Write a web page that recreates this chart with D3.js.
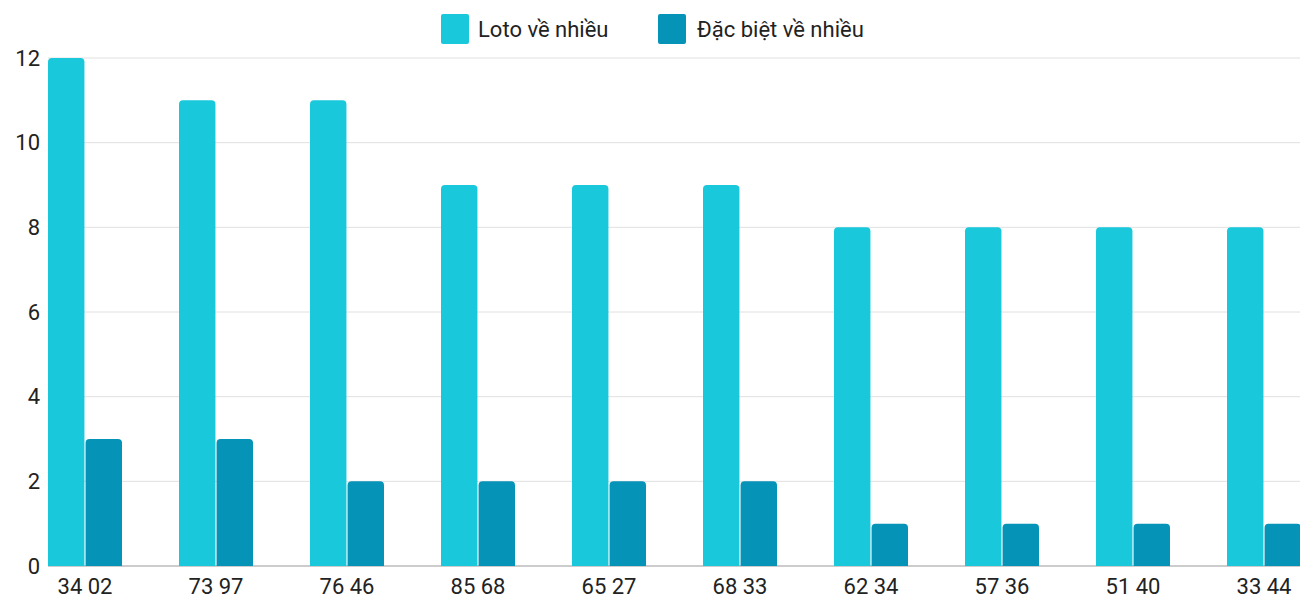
<!DOCTYPE html>
<html><head><meta charset="utf-8">
<script src="https://cdn.jsdelivr.net/npm/d3@7"></script>
<style>body{margin:0;background:#fff}text{font-family:Roboto,sans-serif}</style>
</head><body><svg id="c" width="1300" height="600"></svg>
<script>
const categories=["34 02","73 97","76 46","85 68","65 27","68 33","62 34","57 36","51 40","33 44"];
const lotoValues=[12,11,11,9,9,9,8,8,8,8];
const specialValues=[3,3,2,2,2,2,1,1,1,1];
const seriesNames=["Loto về nhiều","Đặc biệt về nhiều"];
const colors=["#1AC8DB","#0693B8"];
const yTicks=[0,2,4,6,8,10,12];

const svg=d3.select("#c");
const left=48,step=131,groupW=74;
const x0=d3.scaleBand().domain(categories).range([left,left+step*categories.length]);
const x1=d3.scaleBand().domain([0,1]).range([0,groupW]).paddingInner(0.03);
const y=d3.scaleLinear().domain([0,12]).range([566,58]);

svg.append("g").selectAll("line").data(yTicks).join("line")
 .attr("x1",left).attr("x2",1300).attr("y1",d=>y(d)).attr("y2",d=>y(d))
 .attr("stroke",d=>d===0?"#999":"#e0e0e0").attr("stroke-width",1);
svg.append("g").selectAll("text").data(yTicks).join("text")
 .attr("x",40).attr("y",d=>y(d)).attr("dy","0.35em").attr("text-anchor","end")
 .attr("font-size",22).attr("fill","#222").text(d=>d);

function topRounded(x,yy,w,h,r){
 r=Math.min(r,h/2);
 return `M${x},${yy+h}V${yy+r}Q${x},${yy} ${x+r},${yy}H${x+w-r}Q${x+w},${yy} ${x+w},${yy+r}V${yy+h}Z`;
}
[lotoValues,specialValues].forEach((vals,si)=>{
 svg.append("g").selectAll("path").data(vals).join("path")
  .attr("fill",colors[si])
  .attr("d",(v,i)=>topRounded(x0(categories[i])+x1(si),y(v),x1.bandwidth(),y(0)-y(v),4));
});
const ax=svg.append("g").attr("transform",`translate(${groupW/2-step/2},566)`)
 .call(d3.axisBottom(x0).tickSize(0).tickPadding(12));
ax.select(".domain").remove();
ax.selectAll("text").attr("font-size",22).attr("fill","#222").attr("font-family","Roboto");

const leg=[{x:441,t:478},{x:658,t:697}];
leg.forEach((l,i)=>{
 svg.append("rect").attr("x",l.x).attr("y",14).attr("width",28).attr("height",30).attr("rx",2).attr("fill",colors[i]);
 svg.append("text").attr("x",l.t).attr("y",29).attr("dy","0.35em").attr("font-size",22).attr("fill","#222").text(seriesNames[i]);
});
</script></body></html>
